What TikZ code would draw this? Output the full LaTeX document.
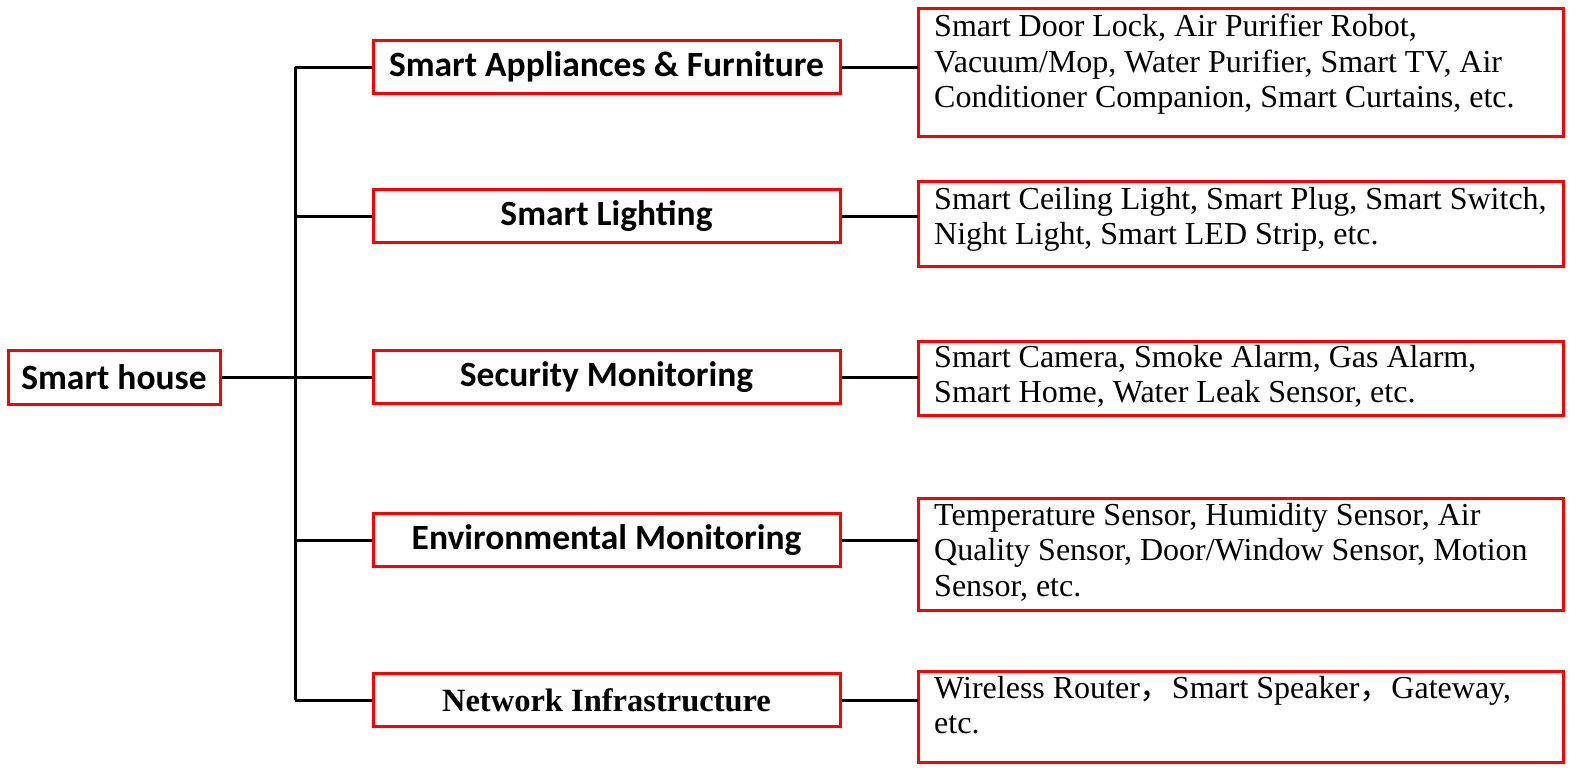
\documentclass[tikz,border=0pt]{standalone}
\usepackage{fontspec}
\setmainfont{Liberation Serif}
\newfontfamily\catfont{Carlito}
\newfontfamily\cjk{Noto Sans CJK SC}
\begin{document}
\begin{tikzpicture}[x=1pt,y=-1pt,
  rbox/.style={draw=red,line width=3pt,fill=white},
  conn/.style={line width=3pt},
  cat/.style={font=\catfont\bfseries\fontsize{35.5}{38}\selectfont},
  desc/.style={font=\fontsize{32}{35.5}\selectfont,align=left,anchor=north west,inner sep=0pt}]
\node[rbox,minimum width=212,minimum height=54,inner sep=0pt,cat] (root) at (114,377) {Smart house};
\foreach \i/\y/\t in {1/67/{Smart Appliances \& Furniture},2/216/{Smart Lighting},3/377/{Security Monitoring},4/540/{Environmental Monitoring}}{
  \node[rbox,minimum width=467,minimum height=53,inner sep=0pt,cat] (c\i) at (606.5,\y) {\t};
}
\node[rbox,minimum width=467,minimum height=53,font=\bfseries\fontsize{32.5}{34}\selectfont] (c5) at (606.5,700) {Network Infrastructure};
\draw[rbox] (918,8) rectangle (1563,136); \node[desc] (d1) at (934,14) {Smart Door Lock, Air Purifier Robot,\\Vacuum/Mop, Water Purifier, Smart TV, Air\\Conditioner Companion, Smart Curtains, etc.};
\draw[rbox] (918,181) rectangle (1563,266); \node[desc] (d2) at (934,187) {Smart Ceiling Light, Smart Plug, Smart Switch,\\Night Light, Smart LED Strip, etc.};
\draw[rbox] (918,341) rectangle (1563,415); \node[desc] (d3) at (934,345) {Smart Camera, Smoke Alarm, Gas Alarm,\\Smart Home, Water Leak Sensor, etc.};
\draw[rbox] (918,498) rectangle (1563,610); \node[desc] (d4) at (934,503) {Temperature Sensor, Humidity Sensor, Air\\Quality Sensor, Door/Window Sensor, Motion\\Sensor, etc.};
\draw[rbox] (918,671) rectangle (1563,762); \node[desc] (d5) at (934,676) {Wireless Router{\cjk ，}Smart Speaker{\cjk ，}Gateway,\\etc.};
\coordinate (t1) at (295,67); \coordinate (t5) at (295,700); \coordinate (tr) at (295,377);
\draw[conn] (t1) -- (t5);
\draw[conn] (root.east) -- (tr);
\foreach \i in {1,...,5}{\draw[conn] (295,0 |- c\i.west) -- (c\i.west); \draw[conn] (c\i.east) -- (918,0 |- c\i.east);}
\pgfresetboundingbox
\useasboundingbox (0,0) rectangle (1594,782);
\end{tikzpicture}
\end{document}
